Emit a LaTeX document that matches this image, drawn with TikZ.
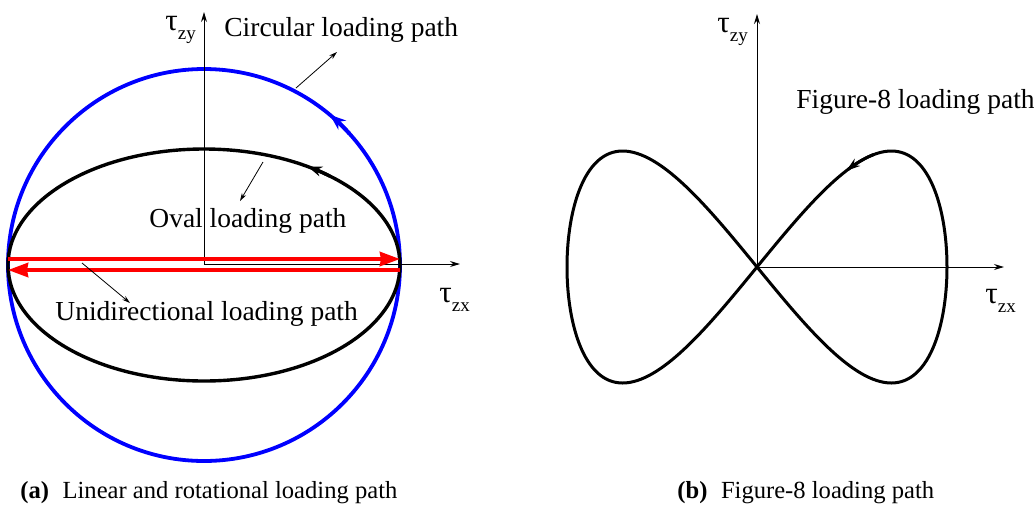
\documentclass[tikz,border=0pt]{standalone}
\usepackage{fontspec}
\setmainfont{Liberation Serif}
\usetikzlibrary{arrows.meta}
\newcommand{\taulab}[1]{{\fontsize{15.5}{15.5}\selectfont τ}\raisebox{-4.5pt}{\fontsize{9.5}{9.5}\selectfont #1}}
\begin{document}
\begin{tikzpicture}[x=0.5pt,y=-0.5pt,
  axis/.style={line width=0.5pt,-{Stealth[length=5pt,width=3pt]}},
  pointer/.style={line width=0.4pt,-{Stealth[length=4pt,width=2.4pt]}},
  lbl/.style={font=\fontsize{13.75}{16}\selectfont, inner sep=0pt, anchor=base west},
  captext/.style={font=\fontsize{12.3}{14}\selectfont, inner sep=0pt, anchor=base west},
  taunode/.style={inner sep=0pt, anchor=base west},
  redline/.style={red, line width=2pt, -{Stealth[length=10pt,width=7pt,inset=0.5pt]}},
  bluepath/.style={blue, line width=1.9pt},
  blackpath/.style={black, line width=1.7pt},
]
\useasboundingbox (0,0) rectangle (1034,505);

% ---------- panel (a) ----------
\coordinate (C1) at (204,265);
\coordinate (O1) at (204,264);
\coordinate (Y1) at (204,12);
\coordinate (X1) at (460,264);

\draw[bluepath] (C1) circle [radius=98pt];
\draw[blackpath] (C1) ellipse [x radius=98pt, y radius=58pt];

\draw[axis] (O1) -- (Y1);
\draw[axis] (O1) -- (X1);

\draw[bluepath, -{Stealth[length=8pt,width=6pt]}] ([shift={(42:98pt)}]C1) arc[start angle=42, end angle=50, radius=98pt];
\draw[blackpath, -{Stealth[length=7pt,width=5pt]}] ([shift={(50:98pt and 58pt)}]C1) arc[start angle=50, end angle=58, x radius=98pt, y radius=58pt];

\coordinate (RL1) at (8,259);
\coordinate (RR1) at (400,259);
\coordinate (RL2) at (8,270);
\coordinate (RR2) at (400,270);
\draw[redline] (RL1) -- (RR1);
\draw[redline] (RR2) -- (RL2);

\coordinate (pc1) at (296,88);  \coordinate (pc2) at (337,52);
\coordinate (po1) at (263,162); \coordinate (po2) at (240,201);
\coordinate (pu1) at (82,263);  \coordinate (pu2) at (130,303);
\draw[pointer] (pc1) -- (pc2);
\draw[pointer] (po1) -- (po2);
\draw[pointer] (pu1) -- (pu2);

\node[lbl] (circ) at (224,36) {Circular loading path};
\node[lbl] (oval) at (149,227) {Oval loading path};
\node[lbl] (uni) at (55,320) {Unidirectional loading path};
\node[taunode] (tzy1) at (165,30) {\taulab{zy}};
\node[taunode] (tzx1) at (439,302) {\taulab{zx}};

\node[captext] (capa) at (20,498) {\textbf{(a)}\hspace{0.55em}Linear and rotational loading path};

% ---------- panel (b) ----------
\coordinate (O2) at (757,267);
\coordinate (Y2) at (757,14);
\coordinate (X2) at (1004,267);
\draw[axis] (O2) -- (Y2);
\draw[axis] (O2) -- (X2);

\draw[blackpath, line width=1.5pt, line join=round] plot[domain=0:360, samples=241, smooth, variable=\t] ({757+190*sin(\t)},{267-116*sin(2*\t)}) -- cycle;
\draw[blackpath, line width=1.5pt, -{Stealth[length=7pt,width=4.5pt]}] plot[domain=38:28, samples=11, smooth, variable=\t] ({757+190*sin(\t)},{267-116*sin(2*\t)});

\node[lbl] (fig8) at (796,108) {Figure-8 loading path};
\node[taunode] (tzy2) at (717,32) {\taulab{zy}};
\node[taunode] (tzx2) at (985,303) {\taulab{zx}};

\node[captext] (capb) at (677,498) {\textbf{(b)}\hspace{0.55em}Figure-8 loading path};
\end{tikzpicture}
\end{document}
